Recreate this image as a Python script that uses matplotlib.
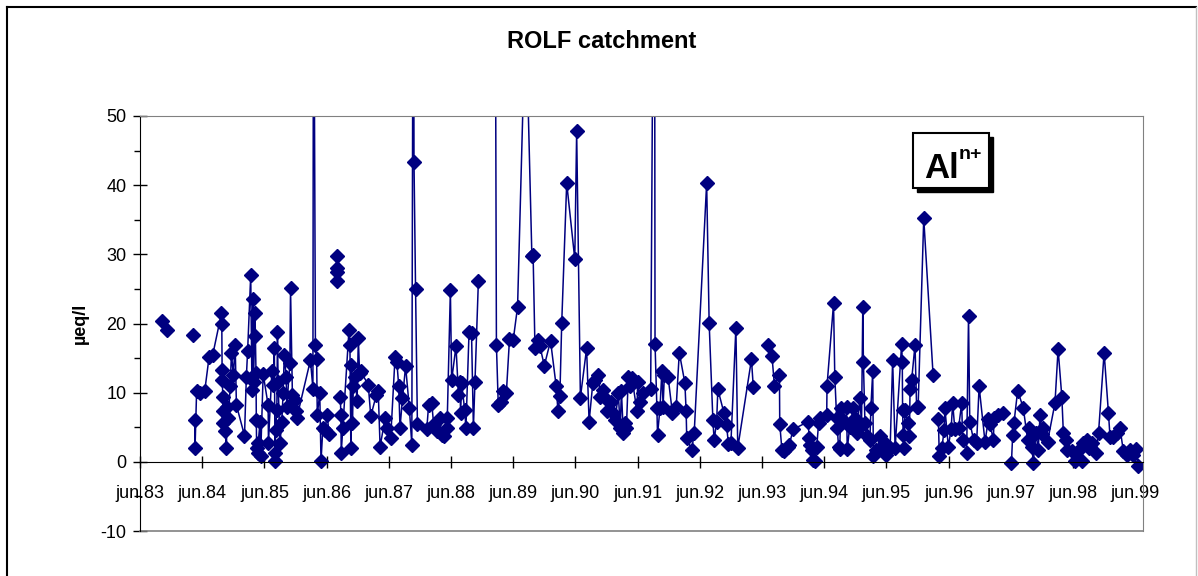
import numpy as np
import matplotlib.pyplot as plt
from matplotlib.patches import Rectangle
from matplotlib.lines import Line2D

nan = np.nan

# time in years counted from June 1983, Al(n+) in µeq/l (values above 50 run off the chart)
t_years = [
    0.35, 0.43, nan,
    0.86, nan, 0.88, 0.885, 0.91, 0.96, 1.04, 1.11, 1.17,
    1.31, 1.315, 1.32, 1.325, 1.33, 1.335, 1.34, 1.37, 1.39, 1.40, 1.42,
    1.45, 1.47, 1.50, 1.53, 1.55, 1.68, 1.71, 1.73, 1.78, 1.80, 1.82, 1.825,
    1.85, 1.855, 1.865, 1.87, 1.875, 1.89, 1.90, 1.93, 1.94, 1.98,
    2.06, 2.065, 2.12, 2.14, 2.16, 2.17, 2.175, 2.18, 2.20, 2.21, 2.22,
    2.25, 2.28, 2.30, 2.32, 2.35, 2.36, 2.41, 2.42, 2.45, 2.49, 2.51, 2.52,
    2.74, 2.78, 2.79, 2.82, 2.84, 2.85, 2.89, 2.91, 2.94, 2.97, 3.01, 3.04, nan,
    3.16, 3.162, 3.165, 3.17, nan,
    3.22, 3.23, 3.235, 3.26, 3.36, 3.375, 3.39, 3.40, 3.415, 3.43, 3.46,
    3.49, 3.51, 3.53, 3.55, 3.67, 3.71, 3.80, 3.83, 3.86, 3.94, 3.97, 4.03,
    4.10, 4.13, 4.16, 4.18, 4.22, 4.27, 4.33, 4.37, 4.395, 4.405, 4.43, 4.46,
    4.61, 4.64, 4.69, 4.72, 4.77, 4.82, 4.85, 4.89, 4.93, 4.94, 4.99, 5.01,
    5.08, 5.12, 5.14, 5.155, 5.17, 5.22, 5.24, 5.29, 5.33, 5.36, 5.385, 5.44, nan,
    5.70, 5.73, 5.76, 5.81, 5.84, 5.89, 5.94, 6.00, 6.07, 6.20, 6.30, 6.32,
    6.35, 6.40, 6.43, 6.50, 6.60, 6.69, 6.72, 6.75, 6.78, 6.86, 6.99, 7.02,
    7.08, 7.18, 7.22, 7.28, 7.32, 7.37, 7.40, 7.45, 7.48, 7.50, 7.58, 7.60,
    7.64, 7.69, 7.72, 7.74, 7.77, 7.80, 7.82, 7.85, 7.87, 7.91, 7.99, 8.00,
    8.04, 8.09, 8.21, 8.27, 8.28, 8.31, 8.32, 8.36, 8.39, 8.41, 8.43, 8.49,
    8.56, 8.62, 8.67, 8.76, 8.78, 8.79, 8.87, 8.91, 9.11, 9.15, 9.21, 9.23,
    9.27, 9.29, 9.39, 9.43, 9.46, 9.50, 9.58, 9.61, 9.83, 9.86, nan,
    10.10, 10.16, 10.20, 10.28, 10.285, 10.32, 10.35, 10.41, 10.44, 10.50,
    10.74, 10.76, 10.77, 10.80, 10.825, 10.85, 10.88, 10.91, 10.94, 11.04,
    11.045, 11.15, 11.17, 11.20, 11.21, 11.23, 11.25, 11.265, 11.31, 11.36,
    11.37, 11.41, 11.47, 11.495, 11.52, 11.575, 11.60, 11.62, 11.63, 11.655,
    11.68, 11.735, 11.75, 11.78, 11.79, 11.84, 11.90, 11.925, 11.98, 12.00,
    12.06, 12.10, 12.14, 12.245, 12.255, 12.26, 12.27, 12.28, 12.30, 12.34,
    12.37, 12.38, 12.405, 12.46, 12.485, 12.51, 12.60, 12.75, nan,
    12.835, 12.85, 12.89, 12.93, 12.94, 12.995, 13.04, 13.065, 13.10, 13.16,
    13.21, 13.225, 13.29, 13.32, 13.34, 13.40, 13.45, 13.49, 13.585, 13.64,
    13.665, 13.72, 13.73, 13.80, 13.88, nan,
    14.01, 14.03, 14.05, 14.11, 14.20, 14.27, 14.30, 14.34, 14.36, 14.405,
    14.44, 14.47, 14.50, 14.52, 14.59, 14.71, 14.76, 14.82, 14.845, 14.89,
    14.90, 14.98, 15.03, 15.09, 15.14, 15.165, 15.22, 15.25, 15.30, 15.37,
    15.41, 15.50, 15.57, 15.595, 15.65, 15.70, 15.755, 15.81, 15.86, 15.92,
    15.96, 16.02, 16.05,
]

al_ueq = [
    20.4, 19.0, nan,
    18.3, nan, 6.1, 2.0, 10.2, 9.9, 10.2, 15.1, 15.5,
    21.5, 19.9, 13.3, 11.8, 9.4, 7.3, 5.6, 4.4, 2.0, 8.0, 6.3,
    10.9, 15.7, 12.6, 16.9, 8.2, 3.8, 12.3, 16.0, 27.0, 10.4, 23.5, 11.6,
    21.5, 18.2, 12.8, 6.1, 2.0, 1.3, 2.7, 5.8, 0.8, 12.7,
    8.2, 2.7, 13.1, 11.1, 16.4, 1.3, 0.05, 4.6, 7.5, 18.7, 11.6,
    2.7, 5.8, 9.9, 15.5, 12.3, 8.0, 14.3, 25.1, 9.7, 9.0, 7.3, 6.3,
    14.7, 10.6, 85.0, 16.9, 14.8, 6.8, 9.9, 0.1, 4.9, 4.6, 6.7, 4.0, nan,
    29.8, 28.0, 27.5, 26.1, nan,
    9.4, 6.8, 1.3, 4.9, 19.1, 16.9, 2.0, 14.0, 5.6, 10.9, 12.3,
    8.8, 17.9, 12.8, 13.1, 11.1, 6.6, 9.7, 10.2, 2.2, 6.3, 4.9, 3.4,
    15.1, 14.4, 10.9, 4.9, 9.2, 13.8, 7.8, 2.5, 95.0, 43.3, 25.0, 5.5,
    4.7, 8.2, 8.5, 5.5, 4.4, 6.3, 3.9, 3.7, 4.9, 6.3, 24.8, 11.8,
    16.7, 9.7, 11.6, 7.0, 11.4, 7.5, 4.9, 18.8, 18.6, 4.9, 11.6, 26.1, nan,
    110.0, 16.9, 8.2, 8.7, 10.2, 10.0, 17.7, 17.6, 22.4, 66.0, 29.8, 29.9,
    16.4, 17.6, 16.7, 13.9, 17.5, 11.0, 7.3, 9.5, 20.1, 40.3, 29.3, 47.8,
    9.3, 16.4, 5.8, 11.4, 11.8, 12.6, 9.4, 10.4, 9.2, 7.3, 8.7, 7.0,
    6.1, 9.9, 4.9, 10.2, 4.1, 5.6, 4.9, 12.3, 10.9, 12.1, 7.3, 11.5,
    8.7, 9.9, 10.6, 100.0, 17.1, 7.8, 3.9, 7.8, 13.1, 8.0, 12.6, 12.3,
    7.0, 7.9, 15.8, 11.4, 7.3, 3.4, 1.7, 4.2, 40.3, 20.1, 6.1, 3.2,
    5.7, 10.5, 7.0, 5.3, 2.6, 2.7, 19.4, 2.0, 14.8, 10.8, nan,
    16.9, 15.3, 11.0, 12.6, 5.5, 1.7, 1.5, 2.2, 2.5, 4.7,
    5.8, 3.4, 2.5, 1.7, 0.3, 0.05, 2.2, 5.6, 6.3, 6.8,
    11.0, 22.9, 12.3, 6.3, 4.9, 2.2, 1.8, 7.8, 6.0, 8.0,
    1.8, 5.1, 7.8, 6.3, 4.1, 9.2, 5.3, 22.4, 14.4, 5.6,
    3.7, 3.2, 7.8, 13.1, 0.9, 1.7, 3.7, 2.2, 2.7, 1.0,
    2.0, 14.7, 2.0, 17.1, 14.4, 7.5, 3.9, 2.0, 7.5, 5.6,
    3.7, 10.6, 11.8, 16.9, 8.0, 8.0, 35.2, 12.6, nan,
    6.2, 0.9, 2.0, 4.6, 7.8, 2.2, 4.7, 8.5, 4.7, 4.9,
    8.5, 3.2, 1.3, 21.1, 5.8, 3.2, 2.7, 10.9, 2.9, 6.2,
    5.4, 3.2, 6.3, 6.8, 7.0, nan,
    -0.1, 3.9, 5.6, 10.3, 7.8, 3.2, 4.9, 2.2, -0.1, 4.1,
    1.7, 6.8, 4.0, 4.9, 2.9, 8.5, 16.3, 9.4, 4.1, 3.2,
    1.7, 1.5, 0.05, 1.7, 0.05, 2.7, 3.2, 2.0, 2.7, 1.3,
    4.2, 15.8, 7.0, 3.6, 3.6, 4.1, 4.9, 1.5, 1.0, 1.7,
    1.0, 1.8, -0.6,
]

year_ticks = list(range(0, 17))
year_labels = ['jun.%02d' % (83 + i) for i in year_ticks]

plt.rcParams['font.family'] = ['Liberation Sans', 'DejaVu Sans']
plt.rcParams['axes.unicode_minus'] = False

W, H = 1198, 576
fig = plt.figure(figsize=(W / 100, H / 100), dpi=100)

# plot area in pixels: x 140..1143, y 116..531
ax = fig.add_axes([140 / W, 1 - 531 / H, (1143 - 140) / W, (531 - 116) / H])

ax.plot(t_years, al_ueq, color='#000080', linewidth=1.1, marker='D',
        markersize=7, markerfacecolor='#000080', markeredgecolor='#000080')

ax.set_xlim(0, 16.125)
ax.set_ylim(-10, 50)

ax.spines['bottom'].set_position(('data', 0))
ax.spines['bottom'].set_color('black')
ax.spines['left'].set_color('black')
ax.spines['top'].set_color('#808080')
ax.spines['right'].set_color('#808080')
ax.add_line(Line2D([0, 1], [0, 0], transform=ax.transAxes, color='#808080', lw=1.2, clip_on=False))

ax.set_xticks(year_ticks)
ax.set_xticklabels(year_labels)
ax.set_yticks(range(-10, 51, 10))
ax.set_yticks(range(-5, 50, 10), minor=True)
ax.tick_params(axis='x', direction='inout', length=9, width=1, labelsize=13, pad=12)
ax.tick_params(axis='y', which='major', direction='inout', length=9.5, width=1, labelsize=13, pad=5)
ax.tick_params(axis='y', which='minor', direction='out', length=4.3, width=1)

ax.set_ylabel('µeq/l', fontsize=13, fontweight='bold', labelpad=8)

fig.text(602 / W, 1 - 42 / H, 'ROLF catchment', fontsize=17, fontweight='bold',
         ha='center', va='center')

# Al(n+) label box with shadow
fig.patches.append(Rectangle((917 / W, 1 - 192 / H), 76 / W, 55 / H, transform=fig.transFigure,
                             facecolor='black', edgecolor='black', zorder=5))
fig.patches.append(Rectangle((913 / W, 1 - 188 / H), 76 / W, 55 / H, transform=fig.transFigure,
                             facecolor='white', edgecolor='black', linewidth=1.5, zorder=6))
fig.text(924 / W, 1 - 178 / H, 'Al', fontsize=25, fontweight='bold', ha='left', va='baseline', zorder=7)
fig.text(959 / W, 1 - 159 / H, 'n+', fontsize=14, fontweight='bold', ha='left', va='baseline', zorder=7)

# outer chart border
fig.add_artist(Line2D([7 / W, 7 / W], [0, 1 - 7 / H], transform=fig.transFigure, color='black', lw=1.5))
fig.add_artist(Line2D([7 / W, 1196 / W], [1 - 7 / H, 1 - 7 / H], transform=fig.transFigure, color='black', lw=1.5))
fig.add_artist(Line2D([1196 / W, 1196 / W], [0, 1 - 7 / H], transform=fig.transFigure, color='#c0c0c0', lw=1))

fig.savefig('out.png', dpi=100)
